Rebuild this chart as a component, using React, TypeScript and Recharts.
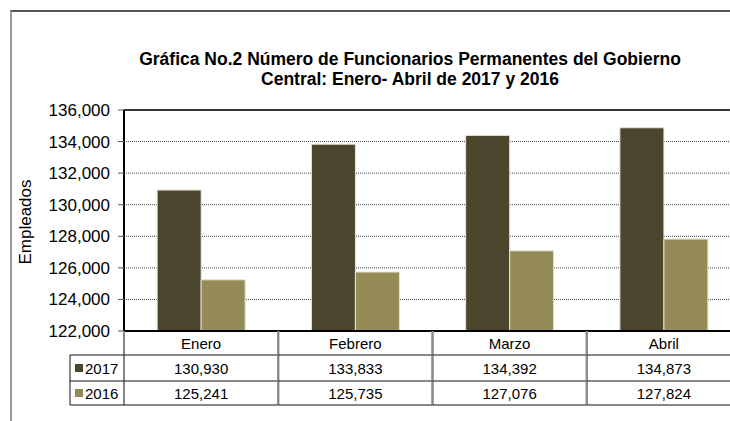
import { BarChart, Bar, XAxis, YAxis, CartesianGrid, ReferenceLine } from 'recharts';

const MONTHS = ['Enero', 'Febrero', 'Marzo', 'Abril'];
const SERIES_2017 = [130930, 133833, 134392, 134873];
const SERIES_2016 = [125241, 125735, 127076, 127824];
const Y_TICKS = [122000, 124000, 126000, 128000, 130000, 132000, 134000, 136000];

const C2017 = '#4a452c';
const C2016 = '#958b56';
const FONT = '"Liberation Sans", Arial, sans-serif';

// plot geometry (chart is wider than the window, right side is cut off like the source)
const CHART_W = 860;
const CHART_H = 421;
const PLOT_LEFT = 124;
const PLOT_RIGHT = 741;
const PLOT_TOP = 110;
const PLOT_BOTTOM = 331;
const BAND = (PLOT_RIGHT - PLOT_LEFT) / MONTHS.length;

const ROW_LABEL = 355;
const ROW_2017 = 381;
const ROW_2016 = 405;
const LEGEND_LEFT = 70;

const data = MONTHS.map((m, i) => ({ name: m, y2017: SERIES_2017[i], y2016: SERIES_2016[i] }));
const fmt = (v: number) => v.toLocaleString('en-US');

function TableTick(props: any) {
  const { x, payload, index } = props;
  const left = x - BAND / 2;
  const right = x + BAND / 2;
  const i = index ?? payload.index;
  return (
    <g fontFamily={FONT} fontSize={15} fill="#000">
      <line x1={left} x2={left} y1={PLOT_BOTTOM} y2={ROW_2016} stroke="#888" strokeWidth={2} />
      <line x1={right} x2={right} y1={PLOT_BOTTOM} y2={ROW_2016} stroke="#888" strokeWidth={2} />
      <line x1={left} x2={right} y1={ROW_LABEL} y2={ROW_LABEL} stroke="#111" strokeWidth={1} />
      <line x1={left} x2={right} y1={ROW_2017} y2={ROW_2017} stroke="#111" strokeWidth={1} />
      <line x1={left} x2={right} y1={ROW_2016} y2={ROW_2016} stroke="#111" strokeWidth={1} />
      <text x={x} y={PLOT_BOTTOM + 18} textAnchor="middle">{payload.value}</text>
      <text x={x} y={ROW_LABEL + 18.5} textAnchor="middle">{fmt(SERIES_2017[i])}</text>
      <text x={x} y={ROW_2017 + 17.5} textAnchor="middle">{fmt(SERIES_2016[i])}</text>
      {i === 0 && (
        <g>
          <line x1={LEGEND_LEFT} x2={left} y1={ROW_LABEL} y2={ROW_LABEL} stroke="#111" />
          <line x1={LEGEND_LEFT} x2={left} y1={ROW_2017} y2={ROW_2017} stroke="#111" />
          <line x1={LEGEND_LEFT} x2={left} y1={ROW_2016} y2={ROW_2016} stroke="#111" />
          <line x1={LEGEND_LEFT} x2={LEGEND_LEFT} y1={ROW_LABEL} y2={ROW_2016} stroke="#111" />
          <rect x={75} y={364} width={8} height={8} fill={C2017} />
          <text x={85} y={ROW_LABEL + 18.5}>2017</text>
          <rect x={75} y={389} width={8} height={8} fill={C2016} />
          <text x={85} y={ROW_2017 + 17.5}>2016</text>
        </g>
      )}
    </g>
  );
}

export default function App() {
  return (
    <div style={{ position: 'absolute', left: 0, top: 0, width: 730, height: 421, overflow: 'hidden', background: '#fff', fontFamily: FONT }}>
      <div style={{ position: 'absolute', left: 10, top: 10, width: 800, height: 500, borderTop: '2px solid #555', borderLeft: '2px solid #999' }} />
      <div style={{ position: 'absolute', left: 60, width: 700, top: 49, textAlign: 'center', fontWeight: 'bold', fontSize: 17.5, lineHeight: '20px', color: '#000' }}>
        Gráfica No.2 Número de Funcionarios Permanentes del Gobierno<br />Central: Enero- Abril de 2017 y 2016
      </div>
      <div style={{ position: 'absolute', left: 25.5, top: 222, transform: 'translate(-50%, -50%) rotate(-90deg)', fontSize: 17, color: '#000', whiteSpace: 'nowrap' }}>
        Empleados
      </div>
      <div style={{ position: 'absolute', left: 0, top: 0 }}>
        <BarChart
          width={CHART_W}
          height={CHART_H}
          data={data}
          margin={{ top: PLOT_TOP, left: PLOT_LEFT - 70, right: CHART_W - PLOT_RIGHT, bottom: 0 }}
          barCategoryGap="21.5%"
          barGap={0}
        >
          <CartesianGrid vertical={false} stroke="#444" strokeDasharray="1 1" />
          <YAxis
            width={70}
            domain={[122000, 136000]}
            ticks={Y_TICKS}
            tickFormatter={fmt}
            axisLine={{ stroke: '#000', strokeWidth: 2 }}
            tickLine={{ stroke: '#555' }}
            tickSize={6}
            tickMargin={8}
            tick={{ fontSize: 17, fill: '#000', fontFamily: FONT }}
            allowDataOverflow
          />
          <XAxis
            dataKey="name"
            height={CHART_H - PLOT_BOTTOM}
            axisLine={{ stroke: '#000', strokeWidth: 2 }}
            tickLine={false}
            interval={0}
            tick={<TableTick />}
          />
          <ReferenceLine y={136000} stroke="#000" strokeWidth={1.5} />
          <Bar dataKey="y2017" fill={C2017} stroke="#e6e3d6" strokeWidth={1} isAnimationActive={false} />
          <Bar dataKey="y2016" fill={C2016} stroke="#e6e3d6" strokeWidth={1} isAnimationActive={false} />
        </BarChart>
      </div>
    </div>
  );
}
